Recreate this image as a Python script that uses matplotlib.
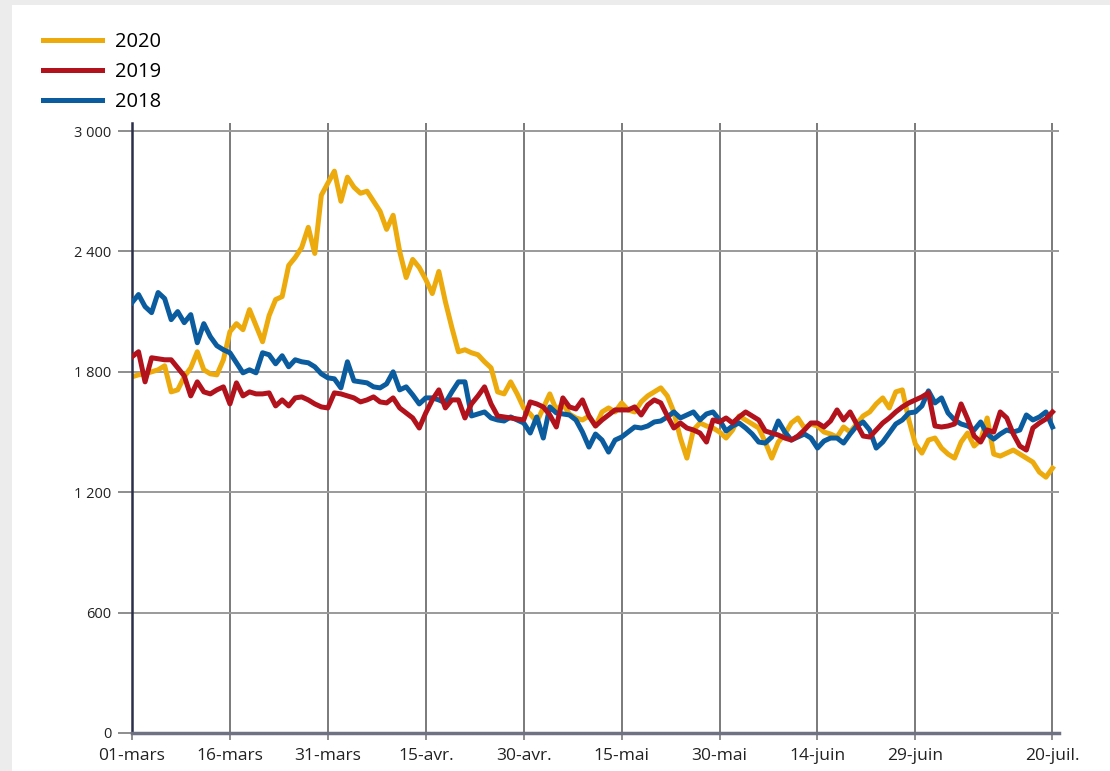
import matplotlib
matplotlib.use("Agg")
import matplotlib.pyplot as plt
from matplotlib.patches import Rectangle

plt.rcParams['font.family'] = ['Open Sans', 'DejaVu Sans']

# jours depuis le 1er mars (0 = 01-mars, 141 = 20-juil.)
tick_days = [0, 15, 30, 45, 60, 75, 90, 105, 120, 141]
tick_labels = ["01-mars", "16-mars", "31-mars", "15-avr.", "30-avr.",
               "15-mai", "30-mai", "14-juin", "29-juin", "20-juil."]
y_ticks = [0, 600, 1200, 1800, 2400, 3000]
y_labels = ["0", "600", "1 200", "1 800", "2 400", "3 000"]

# décès quotidiens
deces_2020 = [
    1775, 1785, 1790, 1800, 1810, 1830, 1700, 1710, 1775, 1820,
    1900, 1810, 1790, 1785, 1860, 2000, 2040, 2010, 2110, 2030,
    1950, 2080, 2160, 2175, 2330, 2370, 2420, 2520, 2390, 2680,
    2740, 2800, 2650, 2770, 2720, 2690, 2700, 2650, 2600, 2510,
    2580, 2400, 2270, 2360, 2320, 2260, 2190, 2300, 2150, 2020,
    1900, 1910, 1895, 1885, 1850, 1820, 1700, 1690, 1750, 1690,
    1620, 1590, 1550, 1620, 1690, 1610, 1640, 1590, 1570, 1560,
    1580, 1530, 1600, 1620, 1600, 1645, 1610, 1600, 1650, 1680,
    1700, 1720, 1680, 1600, 1470, 1370, 1510, 1545, 1530, 1520,
    1500, 1470, 1510, 1580, 1560, 1540, 1520, 1450, 1370, 1450,
    1490, 1545, 1570, 1520, 1540, 1530, 1500, 1490, 1475, 1525,
    1500, 1540, 1580, 1600, 1640, 1670, 1620, 1700, 1710, 1560,
    1440, 1395, 1460, 1470, 1420, 1390, 1370, 1450, 1495, 1430,
    1460, 1570, 1390, 1380, 1395, 1410, 1390, 1370, 1350, 1300,
    1275, 1320,
]
deces_2019 = [
    1875, 1900, 1750, 1870, 1865, 1860, 1860, 1820, 1780, 1680,
    1750, 1700, 1690, 1710, 1725, 1640, 1745, 1680, 1700, 1690,
    1690, 1695, 1630, 1660, 1630, 1670, 1675, 1660, 1640, 1625,
    1620, 1695, 1690, 1680, 1670, 1650, 1660, 1675, 1650, 1645,
    1670, 1620, 1595, 1570, 1520, 1595, 1660, 1710, 1620, 1660,
    1660, 1570, 1640, 1680, 1725, 1640, 1580, 1575, 1570, 1565,
    1560, 1650, 1640, 1625, 1585, 1525, 1670, 1625, 1615, 1660,
    1580, 1530, 1560, 1585, 1610, 1610, 1610, 1625, 1585, 1635,
    1660, 1645, 1580, 1520, 1545, 1520, 1510, 1495, 1450, 1560,
    1550, 1570, 1545, 1575, 1600, 1580, 1560, 1505, 1495, 1485,
    1470, 1460, 1480, 1510, 1545, 1545, 1525, 1555, 1610, 1560,
    1600, 1540, 1480, 1475, 1510, 1545, 1570, 1600, 1625, 1645,
    1660, 1675, 1695, 1530, 1525, 1530, 1540, 1640, 1565, 1480,
    1450, 1510, 1500, 1600, 1570, 1490, 1430, 1410, 1520, 1545,
    1565, 1600,
]
deces_2018 = [
    2145, 2185, 2125, 2095, 2195, 2165, 2060, 2100, 2045, 2085,
    1945, 2040, 1975, 1930, 1910, 1895, 1845, 1795, 1810, 1795,
    1895, 1885, 1840, 1880, 1825, 1860, 1850, 1845, 1825, 1790,
    1770, 1765, 1720, 1850, 1755, 1750, 1745, 1725, 1720, 1740,
    1800, 1710, 1725, 1685, 1640, 1670, 1670, 1660, 1645, 1700,
    1750, 1750, 1580, 1590, 1600, 1570, 1560, 1555, 1575, 1560,
    1545, 1495, 1575, 1470, 1625, 1595, 1590, 1585, 1560, 1500,
    1425, 1490, 1460, 1400, 1460, 1475, 1500, 1525, 1520, 1530,
    1550, 1555, 1575, 1600, 1570, 1585, 1600, 1560, 1590, 1600,
    1560, 1505, 1530, 1545, 1520, 1490, 1450, 1445, 1475, 1555,
    1500, 1460, 1475, 1490, 1470, 1420, 1455, 1470, 1470, 1445,
    1490, 1530, 1550, 1510, 1420, 1450, 1495, 1540, 1560, 1595,
    1600, 1630, 1705, 1645, 1670, 1595, 1560, 1540, 1530, 1510,
    1550, 1490, 1465, 1490, 1510, 1500, 1510, 1585, 1560, 1575,
    1600, 1525,
]

jours = list(range(len(deces_2020)))

fig = plt.figure(figsize=(11.10, 7.71), dpi=100)
fig.patch.set_facecolor('#ececec')
fig.patches.append(Rectangle((12 / 1110, 0), 1, 1 - 5 / 771, transform=fig.transFigure,
                             facecolor='white', edgecolor='none', zorder=-5))

ax = fig.add_axes([132 / 1110, 1 - 733 / 771, 927 / 1110, 610 / 771])
ax.set_facecolor('none')

ax.plot(jours, deces_2018, color='#0a5c9e', lw=3.6, label='2018', zorder=3)
ax.plot(jours, deces_2019, color='#b1121c', lw=3.6, label='2019', zorder=4)
ax.plot(jours, deces_2020, color='#ecaa0c', lw=3.6, label='2020', zorder=2)

ax.set_xlim(0, 142)
ax.set_ylim(0, 3040)
ax.set_xticks(tick_days)
ax.set_xticklabels(tick_labels)
ax.set_yticks(y_ticks)
ax.set_yticklabels(y_labels)

ax.grid(True, axis='x', color='#7a7a7a', lw=1.4, zorder=1)
ax.grid(True, axis='y', color='#9a9a9a', lw=1.4, zorder=1)
ax.tick_params(axis='x', labelsize=12.5, colors='#222222', color='#7a7a7a',
               length=5, width=1.2, pad=6)
ax.tick_params(axis='y', labelsize=10.5, colors='#222222', color='#7a7a7a',
               length=10, width=1.2, pad=5)

for s in ['top', 'right']:
    ax.spines[s].set_visible(False)
ax.spines['left'].set_color('#2b2f4a')
ax.spines['left'].set_linewidth(1.8)
ax.spines['bottom'].set_color('#6f7282')
ax.spines['bottom'].set_linewidth(2.5)

h, l = ax.get_legend_handles_labels()
order = [2, 1, 0]
fig.legend([h[i] for i in order], [l[i] for i in order],
           loc='upper left', bbox_to_anchor=(25 / 1110, 1 - 14 / 771),
           frameon=False, fontsize=14.5, handlelength=2.9, handletextpad=0.65,
           labelspacing=0.5)

fig.savefig('out.png', dpi=100)
